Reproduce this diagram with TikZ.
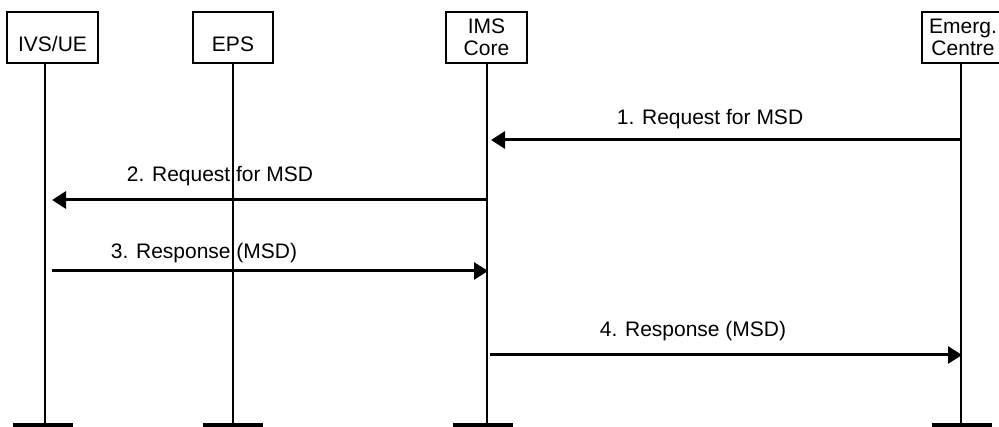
\documentclass[tikz,border=0pt]{standalone}
\usepackage{fontspec}
\setmainfont{Liberation Sans}
\usetikzlibrary{arrows.meta}
\tikzset{
  entity/.style={draw, line width=1.2pt, minimum height=51pt, inner sep=0pt, font=\fontsize{21}{22}\selectfont},
  oneline/.style={text height=34pt, text depth=5pt},
  lifeline/.style={line width=1.4pt},
  foot/.style={line width=4pt},
  msg/.style={line width=3pt, -{Triangle[length=14pt,width=17pt]}},
  msglabel/.style={anchor=base, inner sep=0pt, font=\fontsize{21}{22}\selectfont}
}

\begin{document}
\begin{tikzpicture}[x=1pt,y=-1pt]
\useasboundingbox (0,0) rectangle (999,427);
% entities
\node[entity, oneline, minimum width=91pt] (ivs) at (52.5,37.5) {IVS/UE};
\node[entity, oneline, minimum width=80pt] (eps) at (233,37.5) {EPS};
\node[entity, align=center, minimum width=81pt] (ims) at (486.5,37.5) {IMS\\Core};
\node[entity, align=center, minimum width=82pt] (emc) at (963,37.5) {Emerg.\\Centre};
% lifelines
\coordinate (ivs-foot) at (45,425);
\coordinate (eps-foot) at (233,425);
\coordinate (ims-foot) at (487,425);
\coordinate (emc-foot) at (961,425);
\draw[lifeline] (ivs.south -| ivs-foot) -- (ivs-foot);
\draw[lifeline] (eps.south -| eps-foot) -- (eps-foot);
\draw[lifeline] (ims.south -| ims-foot) -- (ims-foot);
\draw[lifeline] (emc.south -| emc-foot) -- (emc-foot);
\draw[foot] ([xshift=-32pt]ivs-foot) -- ([xshift=28pt]ivs-foot);
\draw[foot] ([xshift=-30pt]eps-foot) -- ([xshift=30pt]eps-foot);
\draw[foot] ([xshift=-34pt]ims-foot) -- ([xshift=26pt]ims-foot);
\draw[foot] ([xshift=-29pt]emc-foot) -- ([xshift=31pt]emc-foot);
% messages
\coordinate (m1) at (0,140);
\coordinate (m2) at (0,200);
\coordinate (m3) at (0,271);
\coordinate (m4) at (0,355);
\draw[msg] (emc-foot |- m1) -- ([xshift=4pt]ims-foot |- m1);
\draw[msg] (ims-foot |- m2) -- ([xshift=7pt]ivs-foot |- m2);
\draw[msg] ([xshift=7pt]ivs-foot |- m3) -- ([xshift=1pt]ims-foot |- m3);
\draw[msg] ([xshift=3pt]ims-foot |- m4) -- ([xshift=1pt]emc-foot |- m4);
\node[msglabel] (l1) at (710,125) {1. Request for MSD};
\node[msglabel] (l2) at (220,182) {2. Request for MSD};
\node[msglabel] (l3) at (204,259) {3. Response (MSD)};
\node[msglabel] (l4) at (693,337) {4. Response (MSD)};
\end{tikzpicture}
\end{document}
